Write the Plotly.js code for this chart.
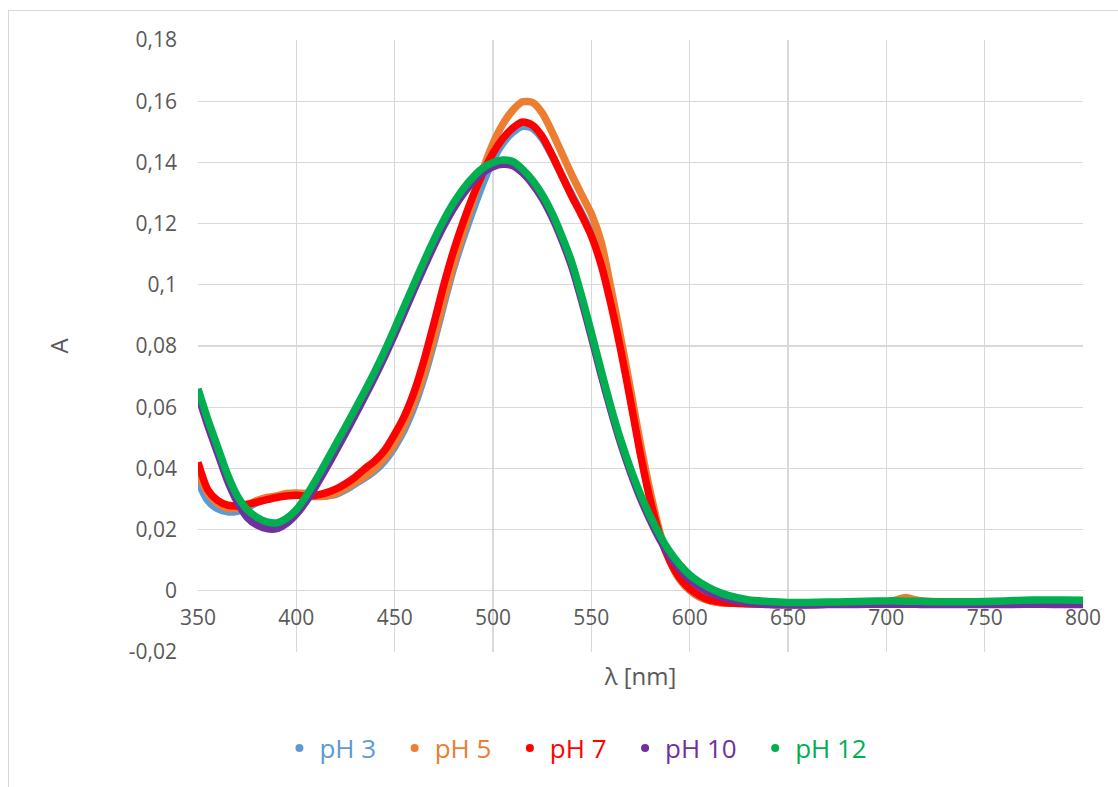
<!DOCTYPE html>
<html>
<head>
<meta charset="utf-8">
<script src="https://cdn.plot.ly/plotly-3.0.1.min.js"></script>
<style>
html,body{margin:0;padding:0;background:#fff;overflow:hidden;}
#chart{position:absolute;left:0;top:0;width:1118px;height:787px;}
#frame{position:absolute;left:8px;top:10px;width:1200px;height:900px;border:1.5px solid #d9d9d9;pointer-events:none;}
</style>
</head>
<body>
<div id="chart"></div>
<div id="frame"></div>
<script>
// wavelength (nm)
const wavelength = [350,355,360,365,370,375,380,385,390,395,400,405,410,415,420,425,430,435,440,445,450,455,460,465,470,475,480,485,490,495,500,505,510,515,520,525,530,535,540,545,550,555,560,565,570,575,580,585,590,595,600,605,610,615,620,
  630,640,650,660,670,680,690,700,705,710,715,720,730,740,750,760,770,780,790,800];

const pH3 = [0.0357,0.0295,0.0268,0.0258,0.026,0.0272,0.0288,0.030,0.0308,0.0313,0.0315,0.031,0.0308,0.031,0.0315,0.033,0.035,0.037,0.0393,0.0425,0.047,0.0528,0.0603,0.0698,0.0812,0.0937,0.1055,0.1155,0.1247,0.1333,0.1408,0.1462,0.1498,0.1518,0.1512,0.1478,0.1422,0.1357,0.1295,0.1235,0.1170,0.1078,0.0948,0.0797,0.0627,0.0452,0.0298,0.0178,0.0096,0.0038,0.0002,-0.0020,-0.0032,-0.0038,-0.004,
  -0.0042,-0.0044,-0.0045,-0.0045,-0.0044,-0.0043,-0.0042,-0.0042,-0.0042,-0.0041,-0.0042,-0.0042,-0.0043,-0.0043,-0.0042,-0.0042,-0.0041,-0.004,-0.004,-0.004];

const pH5 = [0.0385,0.032,0.0285,0.027,0.027,0.028,0.0295,0.0305,0.031,0.0318,0.032,0.0318,0.031,0.031,0.0318,0.0335,0.0355,0.0375,0.040,0.0435,0.048,0.0542,0.0618,0.0712,0.0826,0.0950,0.1068,0.1175,0.1278,0.1378,0.1462,0.1525,0.1570,0.1598,0.1596,0.1562,0.1500,0.1430,0.1360,0.1295,0.1232,0.1140,0.0988,0.0825,0.0655,0.0478,0.0322,0.0188,0.0097,0.0037,0.0002,-0.0020,-0.0032,-0.0038,-0.004,
  -0.0042,-0.0044,-0.0045,-0.0044,-0.0043,-0.0042,-0.004,-0.0038,-0.003,-0.0022,-0.003,-0.0034,-0.0036,-0.0038,-0.004,-0.004,-0.0039,-0.0038,-0.0038,-0.0038];

const pH7 = [0.042,0.033,0.0295,0.028,0.0277,0.0283,0.029,0.0298,0.0305,0.031,0.0312,0.031,0.0312,0.032,0.0332,0.035,0.0372,0.040,0.0425,0.046,0.0512,0.0572,0.0652,0.0755,0.0875,0.1000,0.1112,0.1208,0.1293,0.1367,0.1430,0.1478,0.1512,0.1532,0.1522,0.1485,0.1425,0.1357,0.1290,0.1228,0.1160,0.1065,0.0935,0.0785,0.0618,0.0445,0.0295,0.0178,0.0098,0.0042,0.0007,-0.0015,-0.003,-0.0036,-0.004,
  -0.0042,-0.0044,-0.0045,-0.0045,-0.0044,-0.0043,-0.0043,-0.0042,-0.0042,-0.0042,-0.0042,-0.0043,-0.0043,-0.0043,-0.0043,-0.0042,-0.0042,-0.0042,-0.0041,-0.0041];

const pH10 = [0.064,0.054,0.045,0.036,0.029,0.024,0.0215,0.0203,0.0203,0.022,0.025,0.0292,0.0343,0.0398,0.0456,0.0515,0.0575,0.0637,0.0700,0.0767,0.0838,0.0912,0.0986,0.1058,0.1128,0.1193,0.1250,0.1298,0.1338,0.1368,0.1386,0.1394,0.1389,0.1366,0.1330,0.1283,0.1222,0.1147,0.1060,0.0950,0.0830,0.0706,0.0588,0.0480,0.0386,0.0302,0.0230,0.0166,0.0112,0.0070,0.0037,0.0013,-0.0005,-0.0018,-0.0028,
  -0.004,-0.0045,-0.0046,-0.0046,-0.0045,-0.0045,-0.0044,-0.0044,-0.0044,-0.0044,-0.0044,-0.0045,-0.0045,-0.0045,-0.0045,-0.0045,-0.0044,-0.0044,-0.0045,-0.0045];

const pH12 = [0.066,0.056,0.047,0.038,0.031,0.0265,0.024,0.0225,0.0222,0.0237,0.0265,0.031,0.0363,0.042,0.0478,0.0536,0.0595,0.0655,0.0718,0.0785,0.0857,0.0932,0.1005,0.1078,0.1148,0.1212,0.1268,0.1315,0.1353,0.1382,0.1400,0.1408,0.1403,0.1378,0.1342,0.1295,0.1235,0.1160,0.1075,0.0965,0.0845,0.0720,0.0600,0.0492,0.0398,0.0315,0.0243,0.0180,0.0127,0.0085,0.0052,0.0028,0.0010,-0.0005,-0.0016,
  -0.003,-0.0035,-0.0038,-0.0038,-0.0037,-0.0036,-0.0034,-0.0033,-0.0033,-0.0034,-0.0034,-0.0035,-0.0036,-0.0036,-0.0035,-0.0033,-0.0031,-0.003,-0.003,-0.0031];

const seriesNames = ['pH 3','pH 5','pH 7','pH 10','pH 12'];
const seriesValues = [pH3, pH5, pH7, pH10, pH12];
const seriesColors = ['#5B9BD5','#ED7D31','#FF0000','#7030A0','#00B050'];

const xTickVals = [350,400,450,500,550,600,650,700,750,800];
const yTickVals = [-0.02,0,0.02,0.04,0.06,0.08,0.1,0.12,0.14,0.16,0.18];
const yTickText = ['-0,02','0','0,02','0,04','0,06','0,08','0,1','0,12','0,14','0,16','0,18'];

const traces = [];
seriesValues.forEach((vals, i) => {
  traces.push({
    x: wavelength, y: vals, type: 'scatter', mode: 'lines',
    line: {color: seriesColors[i], width: 7.5, shape: 'spline', smoothing: 0.7},
    showlegend: false, hoverinfo: 'skip'
  });
});
seriesNames.forEach((n, i) => {
  traces.push({
    x: [null], y: [null], type: 'scatter', mode: 'markers',
    marker: {color: seriesColors[i], size: 8},
    name: '<span style="color:' + seriesColors[i] + '">' + n + '</span>\u00a0\u00a0',
    showlegend: true
  });
});

const gridColor = '#d9d9d9';
const layout = {
  width: 1118, height: 787,
  margin: {l: 198, r: 35, t: 40, b: 135, pad: 0},
  paper_bgcolor: 'rgba(0,0,0,0)', plot_bgcolor: '#ffffff',
  separators: ',.',
  font: {family: 'Open Sans, sans-serif', color: '#595959', size: 21},
  xaxis: {
    range: [350, 800], tickvals: xTickVals, showgrid: true, gridcolor: gridColor, gridwidth: 1.3,
    zeroline: false, showline: false, ticks: '', anchor: 'free', position: 0.1,
    ticklabelstandoff: 12,
    tickfont: {size: 21, color: '#595959'},
    title: {text: 'λ [nm]', font: {size: 24, color: '#595959'}, standoff: 38}
  },
  yaxis: {
    range: [-0.02, 0.18], tickvals: yTickVals, ticktext: yTickText, showgrid: true, gridcolor: gridColor, gridwidth: 1.3,
    zeroline: false, showline: false, ticks: '', ticklabelstandoff: 20,
    tickfont: {size: 21, color: '#595959'},
    title: {text: 'A', font: {size: 24, color: '#595959'}, standoff: 53}
  },
  showlegend: true,
  legend: {
    orientation: 'h', x: 0.092, xanchor: 'left', y: -0.157, yanchor: 'middle',
    font: {size: 26}, bgcolor: 'rgba(0,0,0,0)', traceorder: 'normal'
  }
};

Plotly.newPlot('chart', traces, layout, {staticPlot: true, displayModeBar: false});
</script>
</body>
</html>
